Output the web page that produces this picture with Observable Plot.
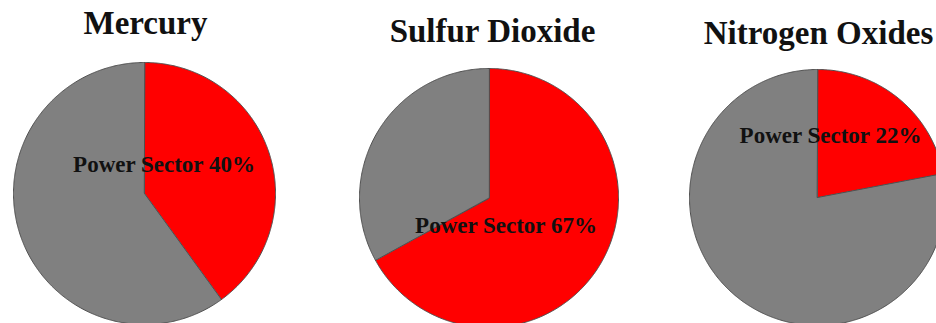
<!DOCTYPE html>
<html>
<head>
<meta charset="utf-8">
<script src="https://cdn.jsdelivr.net/npm/d3@7"></script>
<script src="https://cdn.jsdelivr.net/npm/@observablehq/plot@0.6"></script>
<style>
  html, body { margin: 0; padding: 0; background: #fff; }
  body { width: 936px; height: 323px; overflow: hidden; position: relative; }
  #root { position: absolute; left: 0; top: 0; width: 936px; height: 323px; overflow: hidden; }
  .title { position: absolute; width: 400px; text-align: center; font-family: "Liberation Serif", "Times New Roman", serif; font-weight: bold; font-size: 33px; line-height: 33px; color: #111; white-space: nowrap; }
  .pie { position: absolute; }
</style>
</head>
<body>
<div id="root"></div>
<script>
// ---- data ----
const pollutants = ["Mercury", "Sulfur Dioxide", "Nitrogen Oxides"];
const powerSectorShare = [40, 67, 22];      // percent of emissions from the power sector
const sliceNames = ["Power Sector", "Other"];
const sliceColors = ["#ff0000", "#808080"];

// ---- layout (not data) ----
const layout = [
  {cx: 144, cy: 193, r: 131, titleX: 145.5, titleBase: 35, dx: 19.5, dy: -28.4},
  {cx: 488, cy: 197, r: 129.5, titleX: 492.5, titleBase: 43, dx: 17, dy: 27.6},
  {cx: 817, cy: 197, r: 128, titleX: 818.5, titleBase: 45, dx: 13, dy: -61.4}
];
const m = 2;
const root = document.getElementById("root");

pollutants.forEach((name, i) => {
  const share = powerSectorShare[i];
  const L = layout[i];
  const values = [share, 100 - share];
  // build wedge polygons (clockwise from 12 o'clock) in unit-circle coordinates
  const pts = [];
  let acc = 0;
  values.forEach((v, k) => {
    const a0 = acc / 100 * 2 * Math.PI;
    const a1 = (acc + v) / 100 * 2 * Math.PI;
    acc += v;
    pts.push({name: sliceNames[k], x: 0, y: 0});
    const n = Math.max(2, Math.ceil((a1 - a0) / (Math.PI / 360)));
    for (let j = 0; j <= n; j++) {
      const a = a0 + (a1 - a0) * j / n;
      pts.push({name: sliceNames[k], x: Math.sin(a), y: Math.cos(a)});
    }
  });

  const W = Math.round(2 * L.r + 2 * m);
  const chart = Plot.plot({
    width: W,
    height: W,
    margin: m,
    x: {domain: [-1, 1], axis: null},
    y: {domain: [-1, 1], axis: null},
    color: {domain: sliceNames, range: sliceColors},
    style: {background: "transparent", overflow: "visible"},
    marks: [
      Plot.line(pts, {x: "x", y: "y", z: "name", fill: "name", stroke: "#505050", strokeWidth: 1, curve: "linear-closed"}),
      Plot.text([`${sliceNames[0]} ${share}%`], {
        frameAnchor: "middle", text: d => d, dx: L.dx, dy: L.dy,
        fontFamily: "Liberation Serif, Times New Roman, serif", fontWeight: "bold", fontSize: 23,
        fill: "#111", lineAnchor: "middle"
      })
    ]
  });
  chart.classList.add("pie");
  chart.style.left = (L.cx - W / 2) + "px";
  chart.style.top = (L.cy - W / 2) + "px";
  root.appendChild(chart);

  const t = document.createElement("div");
  t.className = "title";
  t.textContent = name;
  t.style.left = (L.titleX - 200) + "px";
  t.style.top = (L.titleBase - 27.6) + "px";
  root.appendChild(t);
});
</script>
</body>
</html>
